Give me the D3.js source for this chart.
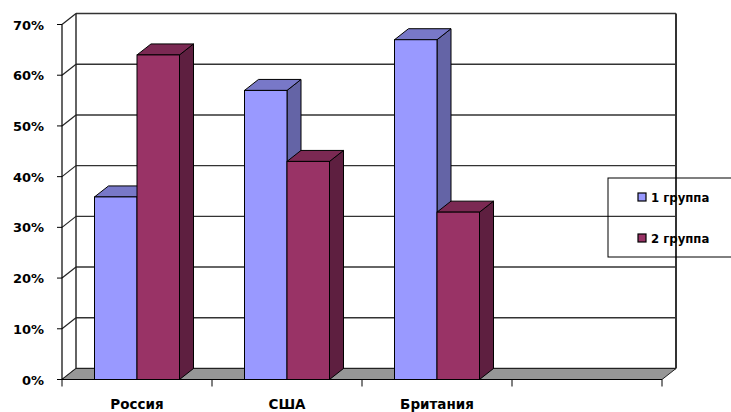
<!DOCTYPE html>
<meta charset="utf-8" />
<style>
  body { margin: 0; background: #fff; }
  text { font-family: "DejaVu Sans", Verdana, sans-serif; font-weight: bold; fill: #000; }
</style>
<body>
  <div id="grafico"></div>
  <script src="https://cdn.jsdelivr.net/npm/d3@7"></script>
  <script>
    // dados
    var categorias = ["Россия", "США", "Британия", ""];
    var series = ["1 группа", "2 группа"];
    var grupo1 = [36, 57, 67];
    var grupo2 = [64, 43, 33];
    var ticksY = [0, 10, 20, 30, 40, 50, 60, 70];

    var cores = {
      "1 группа": { frente: "#9999ff", topo: "#7878c8", lado: "#6464a6" },
      "2 группа": { frente: "#993366", topo: "#7b2953", lado: "#5e1f40" }
    };

    var largura = 731, altura = 412;
    var profX = 14, profY = -11; // profundidade 3d

    var svg = d3.select("#grafico").append("svg")
      .attr("width", largura).attr("height", altura);

    var x = d3.scaleBand().domain(categorias.map((d, i) => i)).range([62, 662]);
    var y = d3.scaleLinear().domain([0, 70]).range([379.5, 24.5]);
    var xs = d3.scaleBand().domain(series).range([32.5, 117.5]);

    var x0 = x.range()[0], x1 = x.range()[1];

    // parede do fundo
    svg.selectAll(".grade").data(ticksY).enter().append("line")
      .attr("x1", x0 + profX).attr("x2", x1 + profX)
      .attr("y1", d => y(d) + profY).attr("y2", d => y(d) + profY)
      .attr("stroke", "#333").attr("stroke-width", 1.4);

    // parede lateral
    svg.selectAll(".diag").data(ticksY).enter().append("line")
      .attr("x1", x0).attr("x2", x0 + profX)
      .attr("y1", d => y(d)).attr("y2", d => y(d) + profY)
      .attr("stroke", "#222").attr("stroke-width", 1.2);

    svg.append("line")
      .attr("x1", x0 + profX).attr("x2", x0 + profX)
      .attr("y1", y(70) + profY).attr("y2", y(0) + profY)
      .attr("stroke", "#222").attr("stroke-width", 1.4);
    svg.append("line")
      .attr("x1", x1 + profX).attr("x2", x1 + profX)
      .attr("y1", y(70) + profY).attr("y2", y(0) + profY)
      .attr("stroke", "#333").attr("stroke-width", 2);

    // piso
    svg.append("polygon")
      .attr("points", [[x0, y(0)], [x0 + profX, y(0) + profY], [x1 + profX, y(0) + profY], [x1, y(0)]].join(" "))
      .attr("fill", "#969696").attr("stroke", "#222").attr("stroke-width", 1);

    // barras
    var barras = [];
    grupo1.forEach((v, i) => {
      barras.push({ cat: i, serie: series[0], valor: v });
      barras.push({ cat: i, serie: series[1], valor: grupo2[i] });
    });

    var g = svg.selectAll(".barra").data(barras).enter().append("g");
    g.each(function (d) {
      var el = d3.select(this);
      var bx = x(d.cat) + xs(d.serie), bw = xs.bandwidth();
      var top = y(d.valor), base = y(0);
      var c = cores[d.serie];
      el.append("polygon")
        .attr("points", [[bx + bw, top], [bx + bw + profX, top + profY], [bx + bw + profX, base + profY], [bx + bw, base]].join(" "))
        .attr("fill", c.lado).attr("stroke", "#000").attr("stroke-width", 1);
      el.append("polygon")
        .attr("points", [[bx, top], [bx + profX, top + profY], [bx + bw + profX, top + profY], [bx + bw, top]].join(" "))
        .attr("fill", c.topo).attr("stroke", "#000").attr("stroke-width", 1);
      el.append("rect")
        .attr("x", bx).attr("y", top).attr("width", bw).attr("height", base - top)
        .attr("fill", c.frente).attr("stroke", "#000").attr("stroke-width", 1);
    });

    // eixo y
    svg.append("line")
      .attr("x1", x0).attr("x2", x0).attr("y1", y(70)).attr("y2", y(0))
      .attr("stroke", "#000").attr("stroke-width", 1.2);
    svg.selectAll(".tickY").data(ticksY).enter().append("line")
      .attr("x1", x0 - 5).attr("x2", x0)
      .attr("y1", d => y(d)).attr("y2", d => y(d))
      .attr("stroke", "#000");
    svg.selectAll(".rotY").data(ticksY).enter().append("text")
      .attr("x", 44).attr("y", d => y(d) + 5)
      .attr("text-anchor", "end").attr("font-size", "13px")
      .text(d => d + "%");

    // eixo x
    svg.append("line")
      .attr("x1", x0).attr("x2", x1).attr("y1", y(0)).attr("y2", y(0))
      .attr("stroke", "#000").attr("stroke-width", 1.2);
    svg.selectAll(".tickX").data(d3.range(categorias.length + 1)).enter().append("line")
      .attr("x1", d => x0 + d * x.bandwidth()).attr("x2", d => x0 + d * x.bandwidth())
      .attr("y1", y(0)).attr("y2", y(0) + 7)
      .attr("stroke", "#000");
    svg.selectAll(".rotX").data(categorias).enter().append("text")
      .attr("x", (d, i) => x(i) + x.bandwidth() / 2).attr("y", 409)
      .attr("text-anchor", "middle").attr("font-size", "13.5px")
      .text(d => d);

    // legenda
    svg.append("rect")
      .attr("x", 608).attr("y", 178).attr("width", 140).attr("height", 79)
      .attr("fill", "none").attr("stroke", "#000").attr("stroke-width", 1);
    var leg = svg.selectAll(".leg").data(series).enter().append("g")
      .attr("transform", (d, i) => "translate(638," + (193 + i * 41) + ")");
    leg.append("rect")
      .attr("width", 8).attr("height", 8)
      .attr("fill", d => cores[d].frente).attr("stroke", "#000").attr("stroke-width", 1.2);
    leg.append("text")
      .attr("x", 13).attr("y", 8.5).attr("font-size", "11.7px")
      .text(d => d);
  </script>
</body>
